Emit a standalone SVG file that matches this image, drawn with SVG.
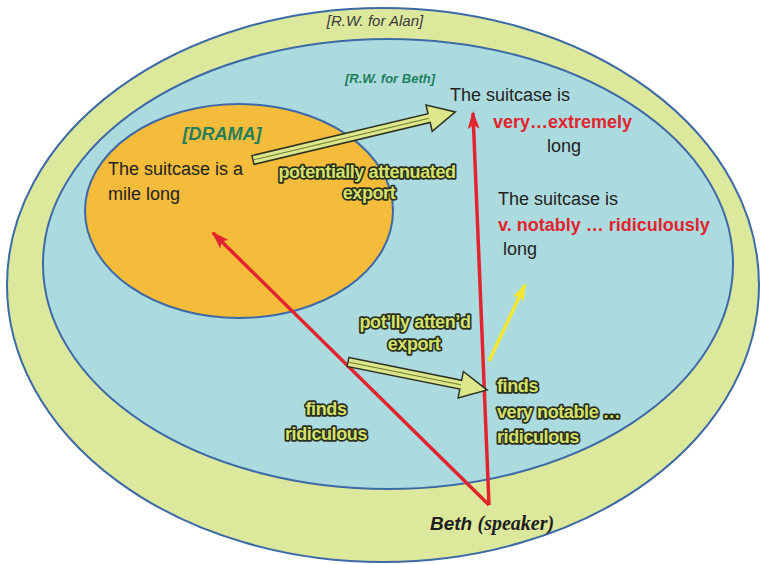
<svg xmlns="http://www.w3.org/2000/svg" width="760" height="564" viewBox="0 0 760 564">
  <style>
    .region { stroke: #3d6aa6; stroke-width: 2; }
    .txt { font-family: "Liberation Sans", Arial, sans-serif; font-size: 18px; fill: #222; }
    .red { font-family: "Liberation Sans", Arial, sans-serif; font-size: 18px; font-weight: bold; fill: #e2242f; }
    .tag { font-family: "Liberation Sans", Arial, sans-serif; font-style: italic; font-weight: bold; fill: #1f7f5c; }
    .ol { font-family: "Liberation Sans", Arial, sans-serif; font-size: 18px; font-weight: bold; letter-spacing: -0.4px; fill: #d5e26c; stroke: #2a2e1c; stroke-width: 3.4; paint-order: stroke; stroke-linejoin: round; }
    .redline { stroke: #e2242f; stroke-width: 3.5; fill: none; }
    .yline { stroke: #f1e630; stroke-width: 3.5; fill: none; }
    .big { fill: #dce78c; stroke: #2f3322; stroke-width: 1.5; stroke-linejoin: miter; }
    .mid { stroke: #6f7d2c; stroke-width: 1; }
  </style>
  <defs>
    <marker id="redHead" viewBox="0 0 18 12" refX="16" refY="6" markerWidth="18" markerHeight="12" markerUnits="userSpaceOnUse" orient="auto">
      <path d="M0,0 L18,6 L0,12 L4,6 Z" fill="#e2242f"/>
    </marker>
    <marker id="yellowHead" viewBox="0 0 18 12" refX="16" refY="6" markerWidth="18" markerHeight="12" markerUnits="userSpaceOnUse" orient="auto">
      <path d="M0,0 L18,6 L0,12 L4,6 Z" fill="#f1e630"/>
    </marker>
  </defs>

  <!-- nested worlds -->
  <g id="world-alan">
    <ellipse class="region" cx="383" cy="285" rx="376" ry="277" fill="#dce89c"/>
    <text x="375" y="26" text-anchor="middle" style="font-family:'Liberation Sans',Arial,sans-serif;font-style:italic;font-size:15px;fill:#3a3a3a">[R.W. for Alan]</text>
  </g>
  <g id="world-beth">
    <ellipse class="region" cx="388" cy="264" rx="345" ry="225" fill="#acdbdf"/>
    <text class="tag" x="390" y="83" text-anchor="middle" font-size="13">[R.W. for Beth]</text>
  </g>
  <g id="drama">
    <ellipse class="region" cx="239" cy="211" rx="154" ry="107" fill="#f5bb3b"/>
    <text class="tag" x="222" y="140" text-anchor="middle" font-size="18">[DRAMA]</text>
    <text class="txt" x="108" y="175">The suitcase is a</text>
    <text class="txt" x="108" y="200">mile long</text>
  </g>

  <!-- statements in Beth's world -->
  <g id="claim-extreme">
    <text class="txt" x="450" y="101">The suitcase is</text>
    <text class="red" x="493" y="128">very…extremely</text>
    <text class="txt" x="547" y="152">long</text>
  </g>
  <g id="claim-ridiculous">
    <text class="txt" x="498" y="205">The suitcase is</text>
    <text class="red" x="498" y="231">v. notably … ridiculously</text>
    <text class="txt" x="503" y="255">long</text>
  </g>
  <g id="finds-ridiculous">
    <text class="ol" x="326" y="415" text-anchor="middle">finds</text>
    <text class="ol" x="326" y="440" text-anchor="middle">ridiculous</text>
  </g>
  <g id="finds-notable">
    <text class="ol" x="497" y="392">finds</text>
    <text class="ol" x="497" y="418">very notable …</text>
    <text class="ol" x="497" y="443">ridiculous</text>
  </g>
  <g id="speaker">
    <text x="430" y="530" style="font-family:'Liberation Sans',Arial,sans-serif;font-style:italic;font-weight:bold;font-size:19px;fill:#1e1e1e">Beth <tspan style="font-family:'Liberation Serif','Times New Roman',serif;font-size:20px">(speaker)</tspan></text>
  </g>

  <!-- connectors -->
  <g id="connectors">
    <line class="redline" x1="489" y1="505" x2="213" y2="233" marker-end="url(#redHead)"/>
    <line class="redline" x1="489" y1="505" x2="473" y2="113" marker-end="url(#redHead)"/>
    <line class="yline" x1="489" y1="361" x2="525" y2="285" marker-end="url(#yellowHead)"/>

    <g id="export-drama" transform="translate(253,160) rotate(-13.37)">
      <path class="big" d="M0,-4.5 L181,-4.5 L181,-13.5 L208,0 L181,13.5 L181,4.5 L0,4.5 Z"/>
      <line class="mid" x1="1" y1="0" x2="181" y2="0"/>
    </g>
    <g id="export-finds" transform="translate(348,362) rotate(11.39)">
      <path class="big" d="M0,-4.5 L115,-4.5 L115,-13.5 L142,0 L115,13.5 L115,4.5 L0,4.5 Z"/>
      <line class="mid" x1="1" y1="0" x2="115" y2="0"/>
    </g>
    <text class="ol" x="367" y="178" text-anchor="middle">potentially attenuated</text>
    <text class="ol" x="369" y="199" text-anchor="middle">export</text>
    <text class="ol" x="415" y="328" text-anchor="middle">pot’lly atten’d</text>
    <text class="ol" x="414" y="350" text-anchor="middle">export</text>
  </g>
</svg>
